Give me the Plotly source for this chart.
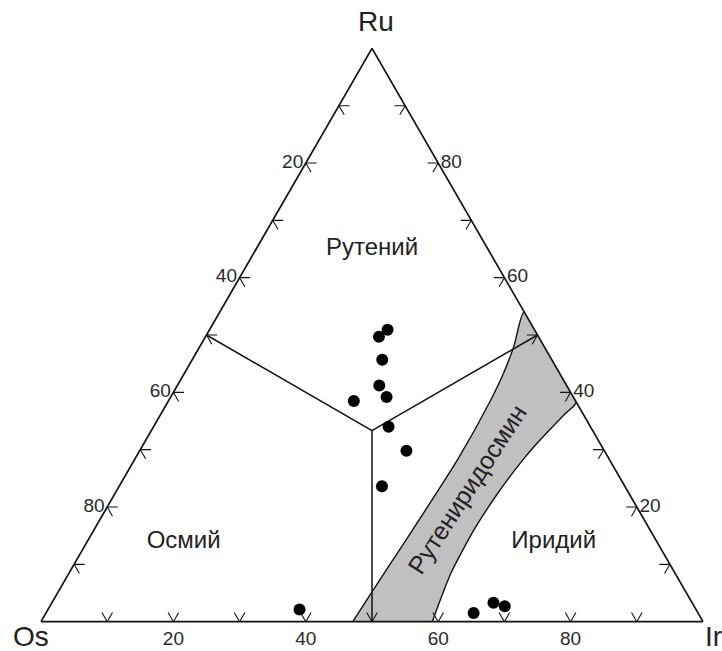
import plotly.graph_objects as go

# ---------------- data (Ru, Os, Ir in %) ----------------
pt_ru = [50.9, 49.7, 45.7, 41.2, 39.2, 38.5, 34.0, 29.8, 23.6, 2.1, 1.5, 3.3, 2.7]
pt_ir = [26.9, 26.2, 28.7, 30.5, 32.6, 28.0, 35.5, 40.3, 39.7, 38.0, 64.6, 66.7, 68.7]
pt_os = [round(100 - r - i, 1) for r, i in zip(pt_ru, pt_ir)]

# field boundaries: centroid -> edge midpoints (Ru, Os, Ir)
centroid = (100 / 3, 100 / 3, 100 / 3)
midpoints = [(50, 50, 0), (50, 0, 50), (0, 50, 50)]

# rutheniridosmine band outline (Ru, Ir)
band_ru = [0, 5.2, 15.5, 28.3, 38.8, 43.4, 48.1, 54.0,
           38.3, 36.4, 34.1, 31.2, 28.3, 22.4, 16.0, 8.4, 0]
band_ir = [47.1, 47.4, 48.1, 48.8, 48.6, 48.2, 47.4, 46.0,
           61.7, 61.1, 60.3, 59.4, 58.7, 57.8, 57.4, 57.7, 59.1]
band_os = [round(100 - r - i, 1) for r, i in zip(band_ru, band_ir)]

# region labels
reg_text = ["Рутений", "Осмий", "Иридий"]
reg_ru = [65.0, 13.9, 13.9]
reg_ir = [17.5, 14.6, 70.5]
reg_os = [round(100 - r - i, 1) for r, i in zip(reg_ru, reg_ir)]

tick_vals = [10, 20, 30, 40, 50, 60, 70, 80, 90]
tick_lab = [20, 40, 60, 80]

# ---------------- figure ----------------
W, H = 722, 651
L, R, T, B = 41, 19, 48, 29

def paper(px, py):
    return (px - L) / (W - L - R), 1 - (py - T) / (H - T - B)

fig = go.Figure()

# grey band
fig.add_trace(go.Scatterternary(
    a=band_ru, b=band_os, c=band_ir, mode="lines", fill="toself",
    fillcolor="#c0c0c0", line=dict(color="#111", width=1.4, shape="spline", smoothing=0.6),
    hoverinfo="skip", showlegend=False))

# chevron ticks (two short strokes along the inner grid directions)
d = 1.6
ta, tb, tc = [], [], []
for t in tick_vals:
    P = (100 - t, t, 0)                      # left edge, Os = t
    for Q in [(100 - t, t - d, d), (100 - t - d, t, d)]:
        ta += [P[0], Q[0], None]; tb += [P[1], Q[1], None]; tc += [P[2], Q[2], None]
    P = (0, 100 - t, t)                      # bottom edge, Ir = t
    for Q in [(d, 100 - t - d, t), (d, 100 - t, t - d)]:
        ta += [P[0], Q[0], None]; tb += [P[1], Q[1], None]; tc += [P[2], Q[2], None]
    P = (t, 0, 100 - t)                      # right edge, Ru = t
    for Q in [(t, d, 100 - t - d), (t - d, d, 100 - t)]:
        ta += [P[0], Q[0], None]; tb += [P[1], Q[1], None]; tc += [P[2], Q[2], None]
fig.add_trace(go.Scatterternary(
    a=ta, b=tb, c=tc, mode="lines", line=dict(color="#111", width=1.1),
    hoverinfo="skip", showlegend=False))

# field boundaries
for m in midpoints:
    fig.add_trace(go.Scatterternary(
        a=[centroid[0], m[0]], b=[centroid[1], m[1]], c=[centroid[2], m[2]],
        mode="lines", line=dict(color="#111", width=1.5),
        hoverinfo="skip", showlegend=False))

# data points
fig.add_trace(go.Scatterternary(
    a=pt_ru, b=pt_os, c=pt_ir, mode="markers",
    marker=dict(color="black", size=12, line=dict(width=0)),
    showlegend=False))

# region labels
fig.add_trace(go.Scatterternary(
    a=reg_ru, b=reg_os, c=reg_ir, mode="text", text=reg_text,
    textfont=dict(family="Liberation Sans, Arial", size=24, color="#222"),
    hoverinfo="skip", showlegend=False))

axis_common = dict(
    min=0, showgrid=False, ticks="", linecolor="#111", linewidth=1.7,
    tickfont=dict(family="Liberation Sans, Arial", size=19, color="#2a2a2a"),
    title=dict(text=""))

fig.update_layout(
    width=W, height=H,
    margin=dict(l=L, r=R, t=T, b=B),
    paper_bgcolor="white",
    ternary=dict(
        sum=100, bgcolor="white",
        domain=dict(x=[0, 1], y=[0, 1]),
        aaxis=dict(tickvals=[100 - v for v in tick_lab],
                   ticktext=[str(v) for v in tick_lab], **axis_common),
        baxis=dict(tickvals=[100 - v for v in tick_lab],
                   ticktext=[str(v) for v in tick_lab], **axis_common),
        caxis=dict(tickvals=[100 - v for v in tick_lab],
                   ticktext=[str(v) for v in tick_lab], **axis_common),
    ),
)

ann_font = dict(family="Liberation Sans, Arial", size=28, color="#222")
x, y = paper(376, 21)
fig.add_annotation(x=x, y=y, xref="paper", yref="paper", text="Ru",
                   showarrow=False, font=ann_font, xanchor="center", yanchor="middle")
x, y = paper(31, 637)
fig.add_annotation(x=x, y=y, xref="paper", yref="paper", text="Os",
                   showarrow=False, font=ann_font, xanchor="center", yanchor="middle")
x, y = paper(703, 637)
fig.add_annotation(x=x, y=y, xref="paper", yref="paper", text="Ir",
                   showarrow=False, font=ann_font, xanchor="left", yanchor="middle")
x, y = paper(467, 489)
fig.add_annotation(x=x, y=y, xref="paper", yref="paper", text="Рутениридосмин",
                   showarrow=False, textangle=-57,
                   font=dict(family="Liberation Sans, Arial", size=25, color="#222"),
                   xanchor="center", yanchor="middle")

fig.write_html("out.html", config={"displayModeBar": False},
               post_script="document.body.style.margin='0';")
